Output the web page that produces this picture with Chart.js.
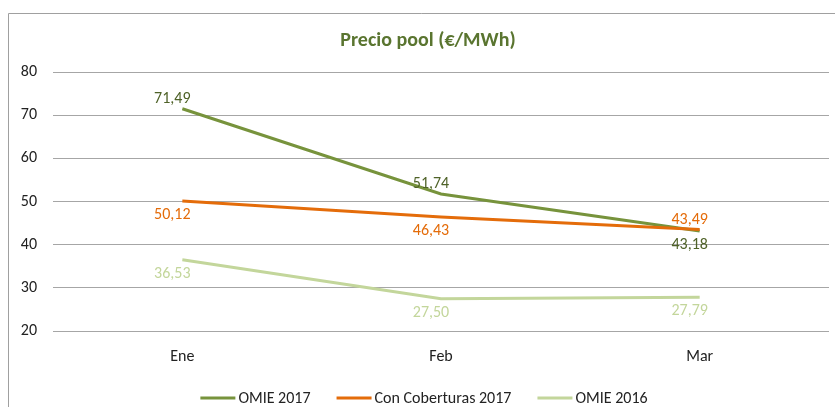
<!DOCTYPE html>
<html>
<head>
<meta charset="utf-8">
<script src="https://cdn.jsdelivr.net/npm/chart.js@4/dist/chart.umd.min.js"></script>
<style>
html,body{margin:0;padding:0;background:#fff;}
#wrap{width:835px;height:407px;position:relative;}
</style>
</head>
<body>
<div id="wrap"><canvas id="c" width="835" height="407"></canvas></div>
<script>
const categories = ['Ene', 'Feb', 'Mar'];
const omie2017 = [71.49, 51.74, 43.18];
const coberturas2017 = [50.12, 46.43, 43.49];
const omie2016 = [36.53, 27.50, 27.79];
const yTicks = [20, 30, 40, 50, 60, 70, 80];
const chartTitle = 'Precio pool (€/MWh)';

const FONT = 'Carlito, Lato, sans-serif';

const labelPlacement = [
  ['top', 'top', 'bottom'],
  ['bottom', 'bottom', 'top'],
  ['bottom', 'bottom', 'bottom']
];
const labelColors = ['#4F6228', '#E46C0A', '#C3D69B'];

const framePlugin = {
  id: 'frame',
  beforeDraw(chart) {
    const ctx = chart.ctx;
    ctx.save();
    ctx.fillStyle = '#fff';
    ctx.fillRect(0, 0, chart.width, chart.height);
    ctx.strokeStyle = '#A0A0A0';
    ctx.lineWidth = 1;
    ctx.beginPath();
    ctx.moveTo(8.5, chart.height);
    ctx.lineTo(8.5, 13.5);
    ctx.lineTo(chart.width, 13.5);
    ctx.stroke();
    ctx.font = 'bold 20px ' + FONT;
    ctx.fillStyle = '#5A7530';
    ctx.textAlign = 'center';
    ctx.textBaseline = 'middle';
    ctx.fillText(chartTitle, 428, 41);
    ctx.restore();
  }
};

const legendPlugin = {
  id: 'customLegend',
  afterDraw(chart) {
    const ctx = chart.ctx;
    ctx.save();
    ctx.font = '16px ' + FONT;
    ctx.textBaseline = 'middle';
    ctx.textAlign = 'left';
    const lineW = 35, gapText = 3, gapItem = 26, y = 398;
    const items = chart.data.datasets.map(d => ({ label: d.label, color: d.borderColor, w: ctx.measureText(d.label).width }));
    const total = items.reduce((s, it) => s + lineW + gapText + it.w, 0) + gapItem * (items.length - 1);
    let x = 424 - total / 2;
    items.forEach(it => {
      ctx.fillStyle = it.color;
      ctx.fillRect(x, y - 1.5, lineW, 3);
      ctx.fillStyle = '#222';
      ctx.fillText(it.label, x + lineW + gapText, y + 1);
      x += lineW + gapText + it.w + gapItem;
    });
    ctx.restore();
  }
};

const valueLabelPlugin = {
  id: 'valueLabels',
  afterDatasetsDraw(chart) {
    const ctx = chart.ctx;
    ctx.save();
    ctx.font = '16px ' + FONT;
    ctx.textAlign = 'center';
    ctx.textBaseline = 'middle';
    chart.data.datasets.forEach((ds, i) => {
      const meta = chart.getDatasetMeta(i);
      meta.data.forEach((pt, j) => {
        const v = ds.data[j];
        const txt = v.toFixed(2).replace('.', ',');
        const dy = labelPlacement[i][j] === 'top' ? -10 : 14;
        ctx.fillStyle = labelColors[i];
        ctx.fillText(txt, pt.x - 10, pt.y + dy);
      });
    });
    ctx.restore();
  }
};

new Chart(document.getElementById('c'), {
  type: 'line',
  data: {
    labels: categories,
    datasets: [
      { label: 'OMIE 2017', data: omie2017, borderColor: '#77933C', backgroundColor: '#77933C', borderWidth: 3, pointRadius: 0, tension: 0, order: 1 },
      { label: 'Con Coberturas 2017', data: coberturas2017, borderColor: '#E46C0A', backgroundColor: '#E46C0A', borderWidth: 3, pointRadius: 0, tension: 0, order: 0 },
      { label: 'OMIE 2016', data: omie2016, borderColor: '#C3D69B', backgroundColor: '#C3D69B', borderWidth: 3, pointRadius: 0, tension: 0, order: 2 }
    ]
  },
  options: {
    responsive: false,
    animation: false,
    layout: { padding: { left: 0, right: 6, top: 72, bottom: 36 } },
    plugins: {
      title: { display: false },
      tooltip: { enabled: false },
      legend: { display: false }
    },
    scales: {
      x: {
        offset: true,
        grid: { display: false, drawTicks: false },
        border: { display: false },
        ticks: { color: '#222', font: { family: FONT, size: 16 }, padding: 16 },
        afterFit(s) { s.height = 40; }
      },
      y: {
        min: 20, max: 80,
        afterBuildTicks(s) { s.ticks = yTicks.map(v => ({ value: v })); },
        grid: { color: '#A6A6A6', lineWidth: 1, drawTicks: false },
        border: { display: false },
        ticks: { color: '#222', font: { family: FONT, size: 16 }, padding: 16 },
        afterFit(s) { s.width = 53; }
      }
    }
  },
  plugins: [framePlugin, valueLabelPlugin, legendPlugin]
});
</script>
</body>
</html>
